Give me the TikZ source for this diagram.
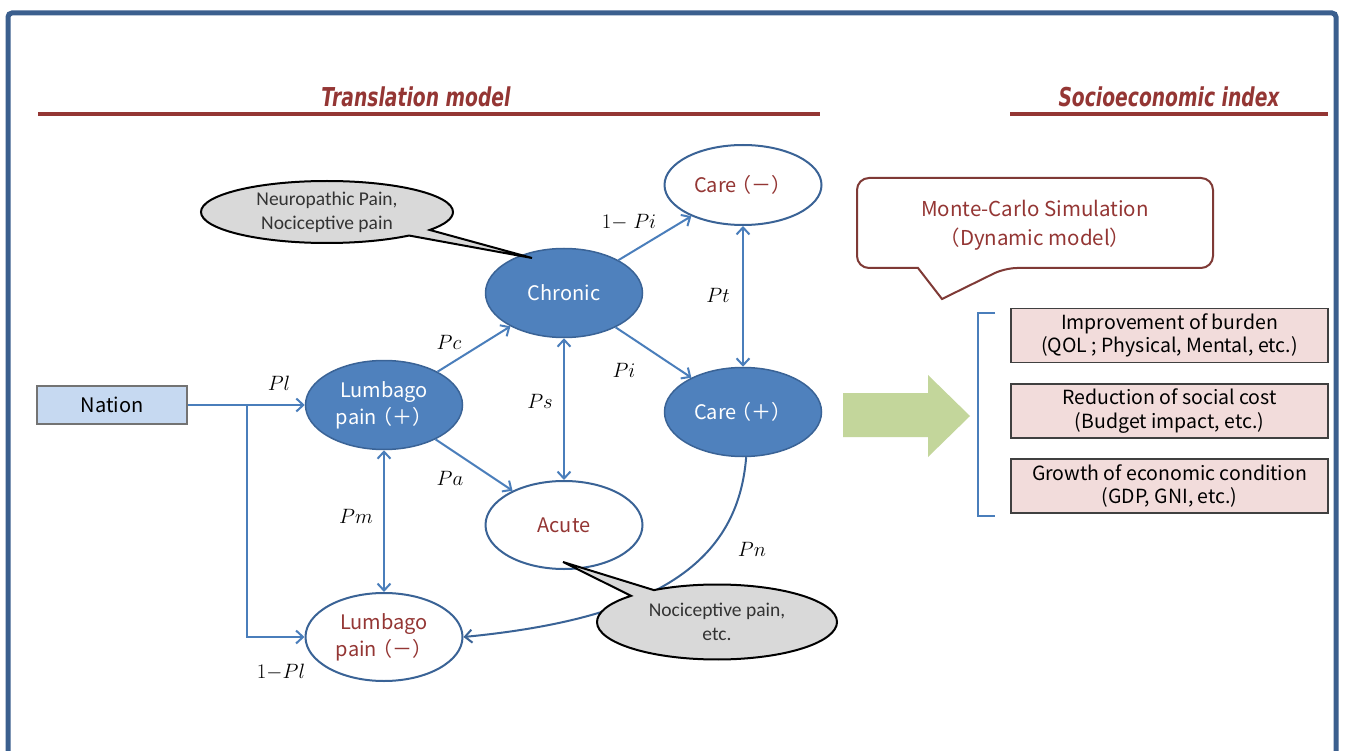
\documentclass[tikz,border=0pt]{standalone}
\usepackage{fontspec}
\setmainfont{Noto Sans CJK JP}
\newfontfamily\calfont{Carlito}
\newfontfamily\titlefont[FakeStretch=0.72]{DejaVu Sans}
\usetikzlibrary{arrows.meta,shapes.geometric,shapes.callouts}
\definecolor{frameblue}{HTML}{3B5F8E}
\definecolor{darkred}{HTML}{943634}
\definecolor{nodeblue}{HTML}{4F81BD}
\definecolor{nodeedge}{HTML}{3A6396}
\definecolor{arrowblue}{HTML}{4A7EBB}
\definecolor{pinkfill}{HTML}{F2DCDB}
\definecolor{greenarrow}{HTML}{C3D69B}
\definecolor{nationfill}{HTML}{C6D9F1}
\definecolor{calloutgray}{HTML}{D9D9D9}
\definecolor{mcred}{HTML}{7F3A36}
\newcommand{\lpar}{\kern-5pt（}
\tikzset{
  fullnode/.style={ellipse, draw=nodeedge, line width=1.5pt, fill=nodeblue, text=white,
    minimum width=157pt, minimum height=89pt, inner sep=0pt, align=center,
    font=\fontsize{20}{27}\selectfont},
  emptynode/.style={ellipse, draw=nodeedge, line width=2pt, fill=white, text=darkred,
    minimum width=157pt, minimum height=88pt, inner sep=0pt, align=center,
    font=\fontsize{20}{27}\selectfont},
  flow/.style={draw=arrowblue, line width=2pt, -{Straight Barb[length=7pt,width=13pt,line width=2pt]}},
  bflow/.style={draw=arrowblue, line width=2pt, {Straight Barb[length=7pt,width=13pt,line width=2pt]}-{Straight Barb[length=7pt,width=13pt,line width=2pt]}},
  plabel/.style={font=\fontsize{20}{24}\selectfont, inner sep=0pt},
  graycallout/.style={ellipse callout, draw=black, line width=2pt, fill=calloutgray,
    inner sep=0pt, align=center, text=black!80, font=\calfont\fontsize{19.5}{24}\selectfont},
  pinkbox/.style={rectangle, draw=black!75, line width=1.5pt, fill=pinkfill,
    minimum width=317pt, minimum height=54pt, inner sep=0pt, align=center,
    font=\fontsize{19.5}{23.5}\selectfont},
  titletext/.style={text=darkred, font=\titlefont\bfseries\itshape\fontsize{26}{30}\selectfont},
  titleline/.style={draw=darkred, line width=3.5pt},
}
\begin{document}
\begin{tikzpicture}[x=1pt,y=-1pt]
\useasboundingbox (0,0) rectangle (1346,751);
\fill[white] (0,0) rectangle (1346,751);
% frame
\draw[frameblue, line width=5pt, rounded corners=4pt] (8,760) -- (8,13) -- (1336,13) -- (1336,760);

% titles
\node[titletext] (t1) at (416,97) {Translation model};
\draw[titleline] (38,114) -- (820,114);
\node[titletext] (t2) at (1169,97) {Socioeconomic index};
\draw[titleline] (1010,114) -- (1328,114);

% nodes
\node[rectangle, draw=black!55, line width=1.5pt, fill=nationfill, minimum width=150pt,
  minimum height=38pt, font=\fontsize{20}{24}\selectfont] (nation) at (112,405) {Nation};
\node[fullnode] (lp) at (384,405) {Lumbago\\pain\lpar＋）};
\node[emptynode] (lm) at (384,637) {Lumbago\\pain\lpar－）};
\node[fullnode] (chronic) at (564,293) {Chronic};
\node[emptynode] (acute) at (564,525) {Acute};
\node[emptynode, minimum height=80pt] (cm) at (743,185) {Care\lpar－）};
\node[fullnode] (cp) at (743,412) {Care\lpar＋）};

% connectors
\coordinate (br) at (247,405);
\draw[flow] (nation.east) -- (lp.west);
\draw[flow] (br) |- (lm.west);
\draw[bflow] (lp) -- (lm);
\draw[flow] (lp) -- (chronic);
\draw[flow] (lp) -- (acute);
\draw[bflow] (chronic) -- (acute);
\draw[flow] (chronic) -- (cm);
\draw[flow] (chronic) -- (cp);
\draw[bflow] (cm) -- (cp);
\draw[flow, draw=nodeedge] (cp.-86) .. controls (738,560) and (660,618) .. (lm.east);

% labels
\node[plabel] (lPl) at (279,383) {$Pl$};
\node[plabel] (l1Pl) at (281,672) {$1{-}Pl$};
\node[plabel] (lPm) at (356,516) {$Pm$};
\node[plabel] (lPc) at (449,342) {$Pc$};
\node[plabel] (lPa) at (450,478) {$Pa$};
\node[plabel] (lPs) at (540,401) {$Ps$};
\node[plabel] (l1Pi) at (629,222) {$1{-}\;Pi$};
\node[plabel] (lPi) at (624,370) {$Pi$};
\node[plabel] (lPt) at (718,295) {$Pt$};
\node[plabel] (lPn) at (752,549) {$Pn$};

% callouts
\node[graycallout, minimum width=252pt, minimum height=62pt,
  callout absolute pointer={(532,258)}, callout pointer arc=14] (c1) at (327,212)
  {Neuropathic Pain,\\Nociceptive pain};
\node[graycallout, minimum width=240pt, minimum height=75pt,
  callout absolute pointer={(563,562)}, callout pointer arc=14] (c2) at (717,622)
  {Nociceptive pain,\\etc.};

% Monte-Carlo callout
\draw[mcred, line width=2pt, fill=white] [rounded corners=12pt] (857,178) -- (1213,178) -- (1213,268)
  -- (1005,268) [sharp corners] -- (942,299) -- (918,268) [rounded corners=12pt] -- (857,268) -- cycle;
\node[text=darkred, align=center, font=\fontsize{20.5}{29}\selectfont] (mc) at (1035,225)
  {Monte-Carlo Simulation\\（Dynamic model）};

% green arrow
\fill[greenarrow] (843,393) -- (928,393) -- (928,375) -- (970,416) -- (928,457) -- (928,437) -- (843,437) -- cycle;

% bracket
\draw[arrowblue, line width=2pt] (995,313) -- (978,313) -- (978,516) -- (995,516);

% result boxes
\node[pinkbox] (b1) at (1169.5,335.5) {Improvement of burden\\(QOL ; Physical, Mental, etc.)};
\node[pinkbox] (b2) at (1169.5,411) {Reduction of social cost\\(Budget impact, etc.)};
\node[pinkbox] (b3) at (1169.5,486) {Growth of economic condition\\(GDP, GNI, etc.)};
\end{tikzpicture}
\end{document}
